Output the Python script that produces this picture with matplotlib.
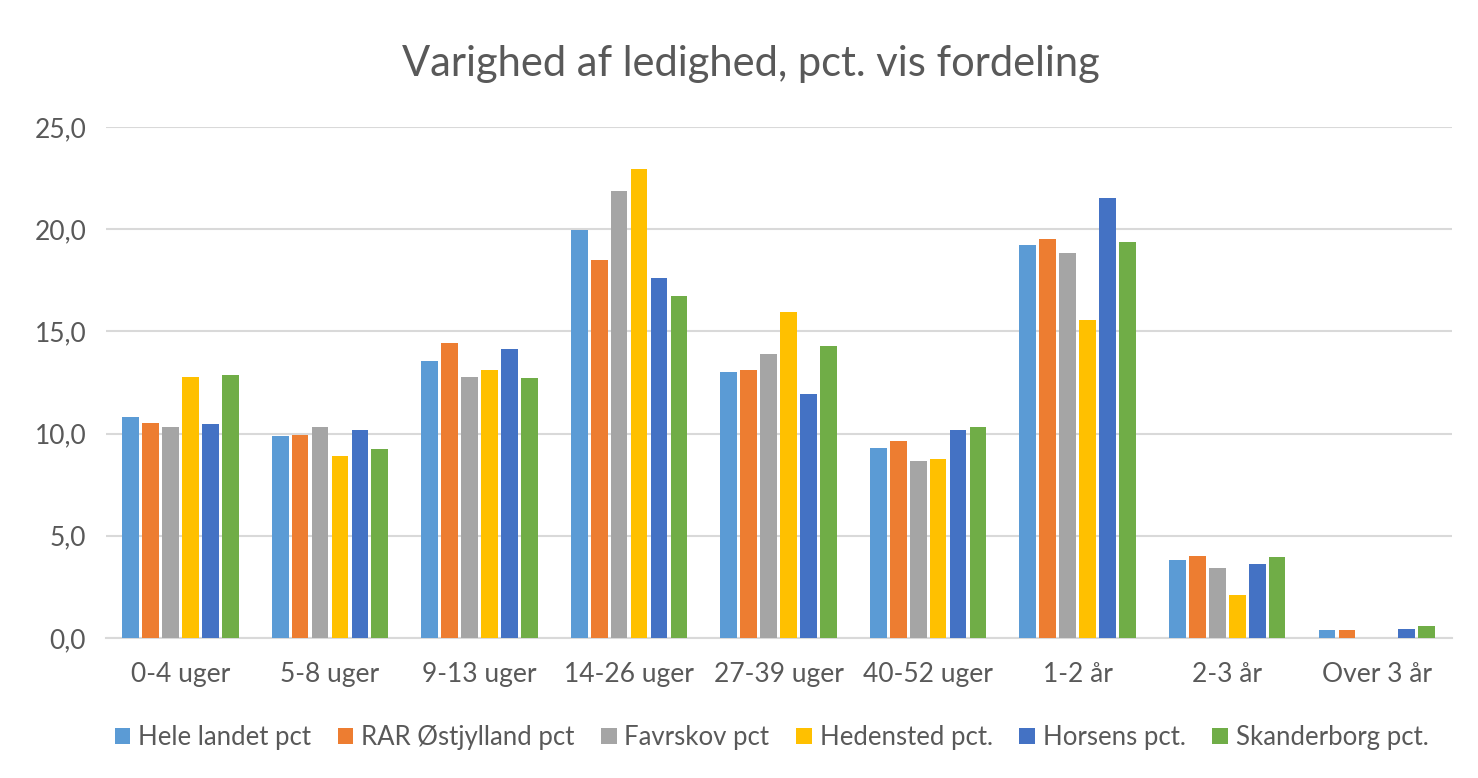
import matplotlib
matplotlib.use("Agg")
import matplotlib.pyplot as plt
import numpy as np

categories = ["0-4 uger", "5-8 uger", "9-13 uger", "14-26 uger", "27-39 uger",
              "40-52 uger", "1-2 år", "2-3 år", "Over 3 år"]
series_names = ["Hele landet pct", "RAR Østjylland pct", "Favrskov pct",
                "Hedensted pct.", "Horsens pct.", "Skanderborg pct."]
hele_landet = [10.82, 9.90, 13.56, 19.98, 13.02, 9.27, 19.24, 3.83, 0.41]
rar_ostjylland = [10.54, 9.95, 14.45, 18.48, 13.09, 9.66, 19.53, 4.00, 0.37]
favrskov = [10.34, 10.34, 12.76, 21.85, 13.87, 8.65, 18.84, 3.41, 0.0]
hedensted = [12.76, 8.91, 13.12, 22.93, 15.93, 8.75, 15.56, 2.08, 0.0]
horsens = [10.47, 10.15, 14.15, 17.63, 11.95, 10.15, 21.52, 3.63, 0.44]
skanderborg = [12.86, 9.26, 12.73, 16.72, 14.30, 10.31, 19.36, 3.97, 0.60]
yticks = [0, 5, 10, 15, 20, 25]
ytick_labels = ["0,0", "5,0", "10,0", "15,0", "20,0", "25,0"]
title = "Varighed af ledighed, pct. vis fordeling"

colors = ["#5B9BD5", "#ED7D31", "#A5A5A5", "#FFC000", "#4472C4", "#70AD47"]
series = [hele_landet, rar_ostjylland, favrskov, hedensted, horsens, skanderborg]

plt.rcParams['font.family'] = ['Lato', 'DejaVu Sans']
txt = "#595959"

fig = plt.figure(figsize=(14.78, 7.78), dpi=100)
ax = fig.add_axes([0.0715, 0.180, 0.9106, 0.6568])

x = np.arange(len(categories))
pitch = 0.1333
for i, (vals, c, name) in enumerate(zip(series, colors, series_names)):
    ax.bar(x + (i - 2.5) * pitch, vals, width=pitch * 0.84, color=c, label=name,
           zorder=3)

ax.set_xlim(-0.5, len(categories) - 0.5)
ax.set_ylim(0, 25)
ax.set_yticks(yticks)
ax.set_yticklabels(ytick_labels)
ax.set_xticks(x)
ax.set_xticklabels(categories)
ax.tick_params(axis='both', length=0, labelsize=19, colors=txt)
ax.tick_params(axis='x', pad=17)
ax.tick_params(axis='y', pad=14)
ax.grid(axis='y', color="#d9d9d9", linewidth=1.5, zorder=0)
for s in ["top", "right", "left"]:
    ax.spines[s].set_visible(False)
ax.spines["bottom"].set_color("#d9d9d9")
ax.spines["bottom"].set_linewidth(1.5)

fig.text(0.508, 0.918, title, ha="center", va="center", fontsize=30, color=txt)

leg = fig.legend(loc="center", bbox_to_anchor=(0.522, 0.052), ncol=6, frameon=False,
                 fontsize=18.5, handlelength=0.6, handleheight=0.6,
                 handletextpad=0.3, columnspacing=1.05)
for t in leg.get_texts():
    t.set_color(txt)

fig.savefig("out.png", dpi=100, facecolor="white")
